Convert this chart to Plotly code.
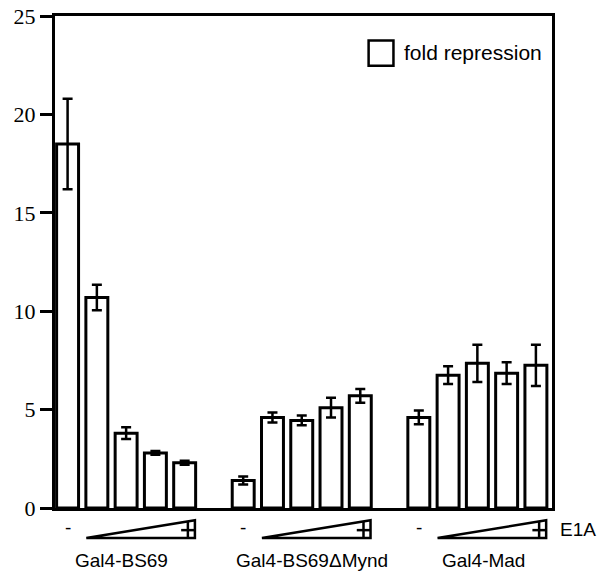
import plotly.graph_objects as go

# ---- data ----
groups = ["Gal4-BS69", "Gal4-BS69\u0394Mynd", "Gal4-Mad"]
group_start = [0, 6, 12]          # bar slot of first bar in each group
fold_bs69 = [18.5, 10.7, 3.8, 2.8, 2.3]
err_bs69 = [2.3, 0.65, 0.3, 0.1, 0.1]
fold_mynd = [1.4, 4.6, 4.45, 5.1, 5.7]
err_mynd = [0.2, 0.25, 0.25, 0.5, 0.35]
fold_mad = [4.6, 6.75, 7.35, 6.85, 7.25]
err_mad = [0.35, 0.45, 0.95, 0.55, 1.05]
yticks = [0, 5, 10, 15, 20, 25]

values = fold_bs69 + fold_mynd + fold_mad
errors = err_bs69 + err_mynd + err_mad
xpos = [g + i for g in group_start for i in range(5)]

fig = go.Figure()
fig.add_trace(go.Bar(
    x=xpos, y=values, width=0.75,
    marker=dict(color="white", line=dict(color="black", width=3)),
    error_y=dict(type="data", array=errors, visible=True,
                 color="black", thickness=2.5, width=5),
    showlegend=False,
))

shapes = []
annotations = []
for g, name in zip(group_start, groups):
    # E1A wedge (increasing amount)
    x0, x1 = g + 0.64, g + 4.35
    yb, yt = -0.061, -0.025
    shapes.append(dict(type="path", xref="x", yref="paper",
                       path=f"M {x0},{yb} L {x1},{yb} L {x1},{yt} Z",
                       line=dict(color="black", width=2.5),
                       fillcolor="white"))
    # plus sign at the high end
    shapes.append(dict(type="line", xref="x", yref="paper",
                       x0=x1 - 0.24, x1=x1 - 0.24, y0=yb, y1=yt - 0.002,
                       line=dict(color="black", width=2.5)))
    shapes.append(dict(type="line", xref="x", yref="paper",
                       x0=x1 - 0.47, x1=x1, y0=-0.045, y1=-0.045,
                       line=dict(color="black", width=2.5)))
    # minus sign under first bar
    annotations.append(dict(x=g, y=-0.04, xref="x", yref="paper",
                            text="-", showarrow=False,
                            font=dict(family="Liberation Sans, Arial", size=19, color="black"),
                            xanchor="center", yanchor="middle"))
    # group label
    offs = {0: 1.85, 6: 8.35, 12: 14.2}[g]
    annotations.append(dict(x=offs, y=-0.106, xref="x", yref="paper",
                            text=name, showarrow=False,
                            font=dict(family="Liberation Sans, Arial", size=19, color="black"),
                            xanchor="center", yanchor="middle"))

annotations.append(dict(x=1.012, y=-0.044, xref="paper", yref="paper",
                        text="E1A", showarrow=False,
                        font=dict(family="Liberation Sans, Arial", size=19, color="black"),
                        xanchor="left", yanchor="middle"))

# legend (open box + label)
shapes.append(dict(type="rect", xref="paper", yref="paper",
                   x0=0.631, x1=0.681, y0=0.899, y1=0.950,
                   line=dict(color="black", width=2.5), fillcolor="white"))
annotations.append(dict(x=0.698, y=0.926, xref="paper", yref="paper",
                        text="fold repression", showarrow=False,
                        font=dict(family="Liberation Sans, Arial", size=21, color="black"),
                        xanchor="left", yanchor="middle"))

fig.update_layout(
    width=607, height=573,
    margin=dict(l=55, r=55, t=16, b=65, autoexpand=False),
    paper_bgcolor="white", plot_bgcolor="white",
    shapes=shapes, annotations=annotations,
    showlegend=False,
    xaxis=dict(range=[-0.43, 16.55], showticklabels=False, ticks="",
               showgrid=False, zeroline=False, automargin=False,
               showline=True, linecolor="black", linewidth=3, mirror=True),
    yaxis=dict(range=[0, 25], tickvals=yticks, ticks="outside",
               ticklen=12, tickwidth=2.5, tickcolor="black",
               showgrid=False, zeroline=False, automargin=False,
               ticklabeloverflow="allow",
               showline=True, linecolor="black", linewidth=3, mirror=True,
               tickfont=dict(family="Liberation Serif, Times New Roman", size=22, color="black")),
)

# remove the default page margin so the figure sits at the window's corner
fig.write_html("out.html",
               config={"displayModeBar": False},
               post_script="document.body.style.margin='0';document.body.style.overflow='hidden';")
